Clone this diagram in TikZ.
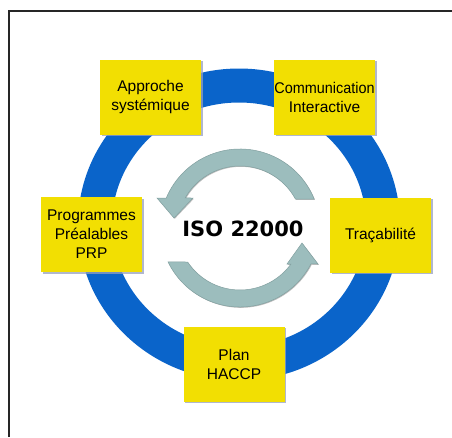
\documentclass[tikz,border=0pt]{standalone}
\usepackage{fontspec}
\setmainfont{Liberation Sans}
\newfontfamily\isofont{DejaVu Sans}
\usetikzlibrary{shadows,calc}
\definecolor{ringblue}{RGB}{10,100,202}
\definecolor{boxyellow}{RGB}{242,223,2}
\definecolor{arrowgray}{RGB}{156,189,189}
\definecolor{arrowedge}{RGB}{130,160,160}
\definecolor{shadowblue}{RGB}{150,160,190}
\begin{document}
\begin{tikzpicture}[x=1pt,y=-1pt,
  topicbox/.style={fill=boxyellow, minimum width=101pt, minimum height=75pt,
    inner sep=0pt, align=center, font=\fontsize{15.5pt}{19pt}\selectfont,
    drop shadow={shadow xshift=1.5pt, shadow yshift=-1.5pt, fill=shadowblue, opacity=0.75}},
  cyclearrow/.style={fill=arrowgray, draw=arrowedge, line width=0.5pt,
    drop shadow={shadow xshift=0.8pt, shadow yshift=-0.8pt, fill=black, opacity=0.25}}]
\useasboundingbox (0,0) rectangle (452,437);
\fill[white] (0,0) rectangle (452,437);
% frame
\draw[line width=2pt, black!85] (8.5,437) -- (8.5,10.5) -- (452,10.5);
% blue ring
\draw[ringblue, line width=34pt] (239,224.5) ellipse [x radius=144, y radius=139];
% cycle arrows
\coordinate (ct) at (240,229);
\coordinate (cb) at (240,227);
\filldraw[cyclearrow] ($(ct)+(-22:80)$) arc[start angle=-22, end angle=-157.2, radius=80]
  -- (157,198) -- (174,218) -- (193,198)
  -- ($(ct)+(-150.5:63)$) arc[start angle=-150.5, end angle=-28.4, radius=63] -- cycle;
\filldraw[cyclearrow] ($(cb)+(154.1:80)$) arc[start angle=154.1, end angle=27.5, radius=80]
  -- (318,264) -- (302,243) -- (287,264)
  -- ($(cb)+(36:63)$) arc[start angle=36, end angle=146.25, radius=63] -- cycle;
\node[font=\isofont\bfseries\fontsize{21pt}{24pt}\selectfont] (iso) at (243,229) {ISO 22000};
% boxes
\node[topicbox] (appr) at (150.5,97) {Approche\\systémique};
\node[topicbox] (comm) at (324.5,97) {\scalebox{0.93}[1]{Communication}\\Interactive};
\node[topicbox] (prp) at (91.5,234.5) {Programmes\\Préalables\\PRP};
\node[topicbox] (trac) at (380.5,235) {Traçabilité};
\node[topicbox] (plan) at (234,364) {Plan\\HACCP};
\end{tikzpicture}
\end{document}
